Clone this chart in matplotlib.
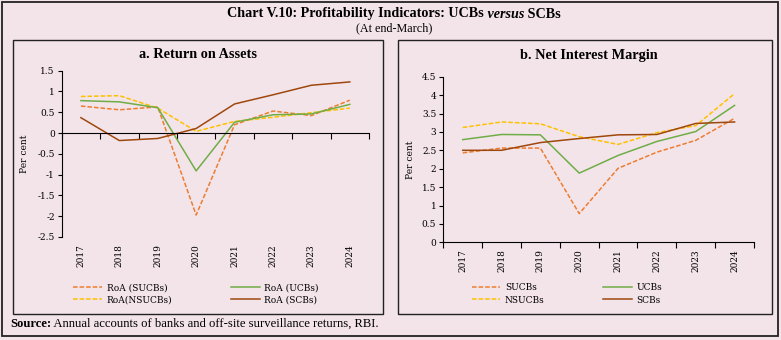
import matplotlib.pyplot as plt
import numpy as np
from matplotlib.patches import Rectangle
from matplotlib.ticker import FormatStrFormatter

plt.rcParams['font.family'] = 'DejaVu Serif'
plt.rcParams['font.size'] = 6.5

# 数据
years = ['2017', '2018', '2019', '2020', '2021', '2022', '2023', '2024']

roa_sucbs = [0.65, 0.56, 0.63, -1.97, 0.20, 0.53, 0.42, 0.79]
roa_nsucbs = [0.88, 0.90, 0.60, 0.04, 0.28, 0.38, 0.49, 0.60]
roa_ucbs = [0.78, 0.75, 0.61, -0.91, 0.26, 0.44, 0.46, 0.69]
roa_scbs = [0.37, -0.18, -0.13, 0.11, 0.70, 0.92, 1.15, 1.23]

nim_sucbs = [2.43, 2.56, 2.56, 0.78, 2.01, 2.45, 2.77, 3.37]
nim_nsucbs = [3.12, 3.27, 3.22, 2.87, 2.66, 2.98, 3.17, 4.04]
nim_ucbs = [2.79, 2.93, 2.92, 1.88, 2.36, 2.74, 3.01, 3.72]
nim_scbs = [2.50, 2.50, 2.71, 2.82, 2.92, 2.93, 3.23, 3.27]

c_orange = '#ED7D31'
c_yellow = '#FFC000'
c_green = '#70AD47'
c_brown = '#9E480E'
bg = '#F3E4EA'

W, H = 781, 340
fig = plt.figure(figsize=(W / 100, H / 100), dpi=100)
fig.patch.set_facecolor(bg)


def px_rect(x0, y0, x1, y1):
    return [x0 / W, 1 - y1 / H, (x1 - x0) / W, (y1 - y0) / H]


# 外框和两个子图框
for (x0, y0, x1, y1), lw in [((2, 2, 778, 336), 1.3), ((13, 40, 383, 314), 1.0),
                             ((398, 40, 772, 314), 1.0)]:
    fig.patches.append(Rectangle((x0 / W, 1 - y1 / H), (x1 - x0) / W, (y1 - y0) / H,
                                 transform=fig.transFigure, fill=False,
                                 edgecolor='#222222', linewidth=lw))

ax1 = fig.add_axes(px_rect(61.7, 70.7, 369, 237))
ax2 = fig.add_axes(px_rect(443.3, 76.7, 754, 242.3))

x = np.arange(len(years))
dash = (3, 1.3)


def draw_panel(ax, series, labels, ylim, yticks, legend_center):
    ax.set_facecolor(bg)
    styles = [(c_orange, True), (c_yellow, True), (c_green, False), (c_brown, False)]
    for vals, lab, (col, dashed) in zip(series, labels, styles):
        if dashed:
            ax.plot(x, vals, color=col, lw=1.1, dashes=dash, label=lab)
        else:
            ax.plot(x, vals, color=col, lw=1.1, label=lab)
    ax.set_xlim(-0.5, len(years) - 0.5)
    ax.set_ylim(*ylim)
    ax.set_yticks(yticks)
    ax.yaxis.set_major_formatter(FormatStrFormatter('%g'))
    for s in ['top', 'right']:
        ax.spines[s].set_visible(False)
    ax.spines['left'].set_linewidth(0.8)
    # x轴放在0处，刻度在类别之间
    ax.spines['bottom'].set_position(('data', 0))
    ax.spines['bottom'].set_linewidth(0.8)
    ax.set_xticks(np.arange(-0.5, len(years), 1.0))
    ax.tick_params(axis='x', length=4, width=0.8, labelbottom=False)
    ax.tick_params(axis='y', length=3, width=0.8, pad=2, labelsize=6.5)
    # 年份标签放在坐标区底部
    sec = ax.secondary_xaxis('bottom')
    sec.set_xticks(x, years, rotation=90)
    sec.tick_params(length=0, pad=5, labelsize=6.5)
    sec.spines['bottom'].set_visible(False)
    ax.set_ylabel('Per cent', fontsize=6.5)
    ax.legend(loc='center', bbox_to_anchor=(legend_center[0] / W, 1 - legend_center[1] / H),
              bbox_transform=fig.transFigure, ncol=2, frameon=False,
              handlelength=3.2, columnspacing=6.5, labelspacing=0.35,
              fontsize=6.5, handletextpad=0.5)


draw_panel(ax1, [roa_sucbs, roa_nsucbs, roa_ucbs, roa_scbs],
           ['RoA (SUCBs)', 'RoA(NSUCBs)', 'RoA (UCBs)', 'RoA (SCBs)'],
           (-2.5, 1.5), np.arange(-2.5, 1.51, 0.5), (196, 294))
ax1.yaxis.set_label_coords(-0.105, 0.5)

draw_panel(ax2, [nim_sucbs, nim_nsucbs, nim_ucbs, nim_scbs],
           ['SUCBs', 'NSUCBs', 'UCBs', 'SCBs'],
           (0, 4.5), np.arange(0, 4.51, 0.5), (567, 294))
ax2.yaxis.set_label_coords(-0.091, 0.5)

# 标题（versus 用斜体，分段拼接）
title_font = ['Liberation Serif']
fig.canvas.draw()
renderer = fig.canvas.get_renderer()
parts = [('Chart V.10: Profitability Indicators: UCBs', 'normal'),
         (' versus', 'italic'), (' SCBs', 'normal')]
texts = []
for s, style in parts:
    t = fig.text(0, 1 - 14 / H, s, family=title_font, fontsize=10.2, weight='bold',
                 style=style, va='center', ha='left')
    texts.append(t)
widths = [t.get_window_extent(renderer).width for t in texts]
xpos = 394 - sum(widths) / 2
for t, w in zip(texts, widths):
    t.set_x(xpos / W)
    xpos += w

fig.text(394 / W, 1 - 28 / H, '(At end-March)', family=title_font, fontsize=8.7,
         ha='center', va='center')
fig.text(198 / W, 1 - 55 / H, 'a. Return on Assets', family=title_font, fontsize=10.3,
         weight='bold', ha='center', va='center')
fig.text(589 / W, 1 - 55 / H, 'b. Net Interest Margin', family=title_font, fontsize=10.3,
         weight='bold', ha='center', va='center')

src = fig.text(10 / W, 1 - 324 / H, 'Source:', family=title_font, fontsize=9.1,
               weight='bold', ha='left', va='center')
sw = src.get_window_extent(renderer).width
fig.text((10 + sw) / W, 1 - 324 / H,
         ' Annual accounts of banks and off-site surveillance returns, RBI.',
         family=title_font, fontsize=9.1, ha='left', va='center')

fig.savefig('out.png', dpi=100, facecolor=bg)
